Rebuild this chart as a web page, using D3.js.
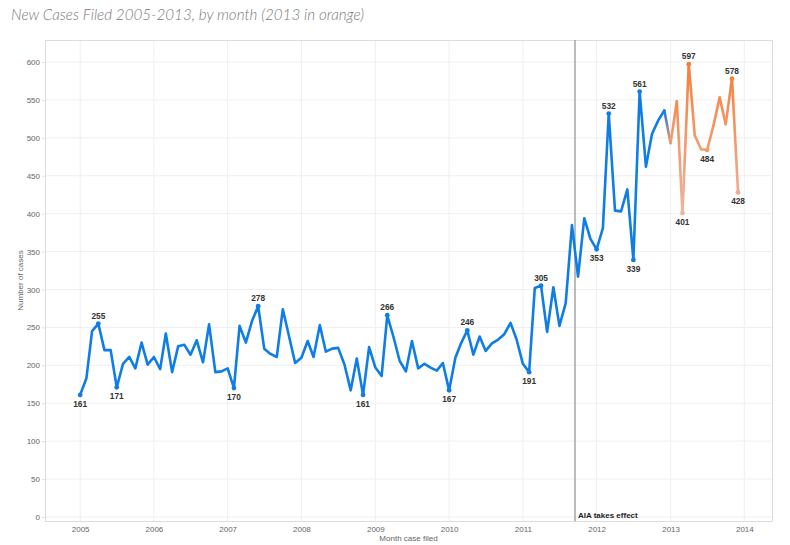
<!DOCTYPE html>
<html>
<head>
<meta charset="utf-8">
<script src="https://cdn.jsdelivr.net/npm/d3@7"></script>
<style>
  html, body { margin: 0; padding: 0; background: #fff; }
  svg { display: block; font-family: "Liberation Sans", Arial, sans-serif; }
</style>
</head>
<body>
<svg id="chart" width="790" height="545"></svg>
<script>
// ---- data ----
const startYear = 2005;
const cases2005 = [161, 183, 245, 255, 220, 220, 171, 202, 211, 196, 230, 201];
const cases2006 = [211, 195, 242, 191, 225, 227, 214, 233, 204, 254, 191, 192];
const cases2007 = [196, 170, 252, 230, 258, 278, 222, 215, 211, 274, 238, 203];
const cases2008 = [210, 232, 211, 253, 218, 222, 223, 201, 167, 209, 161, 224];
const cases2009 = [197, 186, 266, 237, 206, 192, 232, 196, 202, 197, 193, 203];
const cases2010 = [167, 210, 229, 246, 214, 238, 219, 229, 234, 241, 256, 234];
const cases2011 = [202, 191, 302, 305, 244, 303, 252, 282, 385, 317, 394, 367];
const cases2012 = [353, 381, 532, 404, 403, 432, 339, 561, 462, 505, 523, 536];
const cases2013 = [493, 548, 401, 597, 503, 485, 484, 516, 553, 518, 578, 428];
// labelled points: [year, month index (0 = Jan), placement]
const labelledPoints = [
  [2005, 0, "below"], [2005, 3, "above"], [2005, 6, "below"],
  [2007, 1, "below"], [2007, 5, "above"],
  [2008, 10, "below"], [2009, 2, "above"],
  [2010, 0, "below"], [2010, 3, "above"],
  [2011, 1, "below"], [2011, 3, "above"],
  [2012, 0, "below"], [2012, 2, "above"], [2012, 6, "below"], [2012, 7, "above"],
  [2013, 2, "below"], [2013, 3, "above"], [2013, 6, "below"], [2013, 10, "above"], [2013, 11, "below"]
];
const yTicks = [0, 50, 100, 150, 200, 250, 300, 350, 400, 450, 500, 550, 600];
const xTickYears = [2005, 2006, 2007, 2008, 2009, 2010, 2011, 2012, 2013, 2014];
const highlightYear = 2013;
const aiaDate = new Date(2011, 8, 16);
const titleText = "New Cases Filed 2005-2013, by month (2013 in orange)";
const xTitle = "Month case filed";
const yTitle = "Number of cases";
const aiaLabel = "AIA takes effect";

// ---- build series ----
const allYears = [cases2005, cases2006, cases2007, cases2008, cases2009, cases2010, cases2011, cases2012, cases2013];
const series = [];
allYears.forEach((arr, yi) => arr.forEach((v, m) => {
  series.push({ date: new Date(startYear + yi, m, 1), year: startYear + yi, month: m, value: v });
}));

// ---- layout ----
const svg = d3.select("#chart");
const plot = { left: 45, right: 772, top: 40, bottom: 521 };

const x = d3.scaleTime()
  .domain([new Date(2004, 6, 11), new Date(2014, 4, 18)])
  .range([plot.left, plot.right]);
const y = d3.scaleLinear()
  .domain([-5.3, 629])
  .range([plot.bottom, plot.top]);

// title
svg.append("text")
  .attr("x", 11).attr("y", 20)
  .attr("font-family", "Lato, 'Open Sans', sans-serif")
  .attr("font-style", "italic").attr("font-weight", 300)
  .attr("font-size", 15.2).attr("fill", "#7a7a7a")
  .text(titleText);

// gridlines
const grid = svg.append("g");
grid.selectAll("line.h").data(yTicks).join("line")
  .attr("x1", plot.left).attr("x2", plot.right)
  .attr("y1", d => y(d)).attr("y2", d => y(d))
  .attr("stroke", "#efefef").attr("stroke-width", 1);
grid.selectAll("line.v").data(xTickYears).join("line")
  .attr("y1", plot.top).attr("y2", plot.bottom)
  .attr("x1", d => x(new Date(d, 0, 1))).attr("x2", d => x(new Date(d, 0, 1)))
  .attr("stroke", "#efefef").attr("stroke-width", 1);

// frame
svg.append("rect")
  .attr("x", plot.left + 0.5).attr("y", plot.top + 0.5)
  .attr("width", plot.right - plot.left).attr("height", plot.bottom - plot.top)
  .attr("fill", "none").attr("stroke", "#dcdcdc").attr("stroke-width", 1);

// axes
const yAxis = svg.append("g")
  .attr("transform", `translate(${plot.left},0)`)
  .call(d3.axisLeft(y).tickValues(yTicks).tickSize(3).tickPadding(2).tickFormat(d3.format("d")));
yAxis.select(".domain").remove();
yAxis.selectAll(".tick line").attr("stroke", "#e0e0e0");
yAxis.selectAll(".tick text").attr("fill", "#666").attr("font-size", 8)
  .attr("font-family", "'Liberation Sans', Arial, sans-serif");

const xAxis = svg.append("g")
  .attr("transform", `translate(0,${plot.bottom})`)
  .call(d3.axisBottom(x).tickValues(xTickYears.map(d => new Date(d, 0, 1)))
    .tickSize(0).tickPadding(5).tickFormat(d3.timeFormat("%Y")));
xAxis.select(".domain").attr("stroke", "#dcdcdc");
xAxis.selectAll(".tick text").attr("fill", "#666").attr("font-size", 8)
  .attr("font-family", "'Liberation Sans', Arial, sans-serif");

// axis titles
svg.append("text")
  .attr("x", (plot.left + plot.right) / 2).attr("y", 541)
  .attr("text-anchor", "middle").attr("font-size", 8).attr("fill", "#666")
  .text(xTitle);
svg.append("text")
  .attr("transform", `translate(23,${(plot.top + plot.bottom) / 2}) rotate(-90)`)
  .attr("text-anchor", "middle").attr("font-size", 8).attr("fill", "#666")
  .text(yTitle);

// AIA reference line
svg.append("line")
  .attr("x1", x(aiaDate)).attr("x2", x(aiaDate))
  .attr("y1", plot.top).attr("y2", plot.bottom)
  .attr("stroke", "#a5a5a5").attr("stroke-width", 1.5);
svg.append("text")
  .attr("x", x(aiaDate) + 3).attr("y", plot.bottom - 3)
  .attr("font-size", 8).attr("font-weight", "bold").attr("fill", "#222")
  .text(aiaLabel);

// line
const blue = "#0f7de6";
const orangeScale = d3.scaleLinear().domain([400, 600]).range(["#f0b49e", "#f67d37"]).clamp(true);
const colorOf = d => d.year === highlightYear ? orangeScale(d.value) : blue;

const defs = svg.append("defs");
const line = d3.line().x(d => x(d.date)).y(d => y(d.value));

const preBlue = series.filter(d => d.year < highlightYear);
svg.append("path")
  .datum(preBlue)
  .attr("d", line)
  .attr("fill", "none").attr("stroke", blue)
  .attr("stroke-width", 2.6).attr("stroke-linejoin", "round").attr("stroke-linecap", "round");

// coloured segments from last blue point onward
const segGroup = svg.append("g");
for (let i = preBlue.length - 1; i < series.length - 1; i++) {
  const a = series[i], b = series[i + 1];
  const id = "seg" + i;
  const g = defs.append("linearGradient").attr("id", id)
    .attr("gradientUnits", "userSpaceOnUse")
    .attr("x1", x(a.date)).attr("y1", y(a.value))
    .attr("x2", x(b.date)).attr("y2", y(b.value));
  g.append("stop").attr("offset", 0).attr("stop-color", colorOf(a));
  g.append("stop").attr("offset", 1).attr("stop-color", colorOf(b));
  segGroup.append("path")
    .attr("d", line([a, b]))
    .attr("fill", "none").attr("stroke", `url(#${id})`)
    .attr("stroke-width", 2.6).attr("stroke-linecap", "round");
}

// labelled points
const labelled = labelledPoints.map(([yr, m, pos]) => {
  const d = series.find(s => s.year === yr && s.month === m);
  return { ...d, pos };
});
svg.append("g").selectAll("circle").data(labelled).join("circle")
  .attr("cx", d => x(d.date)).attr("cy", d => y(d.value))
  .attr("r", 2.4).attr("fill", d => colorOf(d));
svg.append("g").selectAll("text").data(labelled).join("text")
  .attr("x", d => x(d.date))
  .attr("y", d => y(d.value) + (d.pos === "above" ? -5 : 12))
  .attr("text-anchor", "middle")
  .attr("font-size", 8.3).attr("font-weight", "bold").attr("fill", "#333")
  .text(d => d.value);
</script>
</body>
</html>
